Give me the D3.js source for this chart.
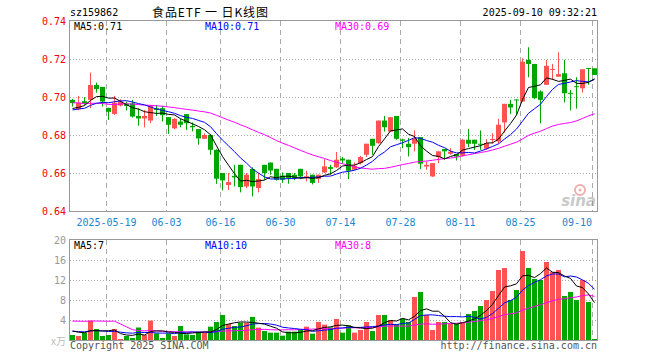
<!DOCTYPE html>
<html>
<head>
<meta charset="utf-8">
<script src="https://cdn.jsdelivr.net/npm/d3@7"></script>
<style>
  body { margin: 0; background: #fff; }
  svg { display: block; }
  text { font-family: "DejaVu Sans Mono", "Liberation Mono", monospace; font-size: 10px; }
</style>
</head>
<body>
<div id="chart"></div>
<script>
// trading days shown (2025)
const dates = [
  "05-09","05-12","05-13","05-14","05-15","05-16","05-19","05-20","05-21","05-22","05-23","05-26","05-27","05-28","05-29","05-30",
  "06-03","06-04","06-05","06-06","06-09","06-10","06-11","06-12","06-13","06-16","06-17","06-18","06-19","06-20","06-23","06-24","06-25","06-26","06-27","06-30",
  "07-01","07-02","07-03","07-04","07-07","07-08","07-09","07-10","07-11","07-14","07-15","07-16","07-17","07-18","07-21","07-22","07-23","07-24","07-25","07-28","07-29","07-30","07-31",
  "08-01","08-04","08-05","08-06","08-07","08-08","08-11","08-12","08-13","08-14","08-15","08-18","08-19","08-20","08-21","08-22","08-25","08-26","08-27","08-28","08-29",
  "09-01","09-02","09-03","09-04","09-05","09-08","09-09","09-10"
];

const open = [
  .6985,.6936,.6978,.6985,.7063,.7053,.6943,.6911,.6955,.6964,
  .6967,.6900,.6887,.6876,.6941,.6941,.6894,.6835,.6871,.6910,
  .6848,.6831,.6780,.6800,.6722,.6600,.6537,.6585,.6643,.6529,
  .6621,.6521,.6643,.6655,.6622,.6586,.6600,.6591,.6622,.6578,
  .6591,.6569,.6603,.6631,.6630,.6676,.6670,.6617,.6652,.6696,
  .6780,.6757,.6876,.6818,.6900,.6777,.6754,.6754,.6789,.6634,
  .6582,.6684,.6726,.6701,.6700,.6691,.6775,.6775,.6754,.6728,
  .6776,.6766,.6866,.6964,.6987,.6976,.7195,.7174,.7029,.7064,
  .7143,.7107,.7125,.7022,.7057,.7046,.7153,.7151
];
const high = [
  .6990,.7006,.6999,.7128,.7076,.7053,.6943,.7006,.6988,.6976,
  .6985,.6941,.6932,.6958,.6958,.6953,.6894,.6889,.6885,.6911,
  .6866,.6831,.6808,.6805,.6725,.6600,.6600,.6643,.6643,.6600,
  .6630,.6600,.6643,.6655,.6622,.6603,.6600,.6600,.6622,.6612,
  .6591,.6591,.6673,.6643,.6710,.6684,.6670,.6656,.6690,.6754,
  .6780,.6876,.6900,.6894,.6900,.6780,.6784,.6824,.6789,.6661,
  .6652,.6714,.6726,.6731,.6700,.6780,.6831,.6775,.6824,.6778,
  .6810,.6885,.6964,.6985,.6987,.7204,.7262,.7174,.7035,.7195,
  .7174,.7235,.7195,.7037,.7104,.7146,.7153,.7151
];
const low = [
  .6950,.6930,.6958,.6941,.7023,.6950,.6880,.6906,.6950,.6929,
  .6892,.6849,.6840,.6862,.6900,.6871,.6806,.6830,.6841,.6827,
  .6819,.6749,.6780,.6696,.6543,.6508,.6510,.6529,.6498,.6520,
  .6477,.6498,.6564,.6591,.6560,.6548,.6544,.6562,.6569,.6556,
  .6540,.6548,.6600,.6591,.6626,.6649,.6568,.6615,.6645,.6684,
  .6696,.6754,.6818,.6818,.6775,.6731,.6687,.6714,.6620,.6617,
  .6579,.6652,.6670,.6696,.6666,.6687,.6736,.6722,.6722,.6722,
  .6754,.6754,.6812,.6911,.6908,.6976,.7104,.6989,.6862,.7064,
  .7090,.7107,.6971,.6929,.6939,.7023,.7064,.7116
];
const close = [
  .6968,.6970,.6967,.7063,.7042,.6976,.6922,.6970,.6976,.6953,
  .6897,.6887,.6900,.6953,.6932,.6904,.6854,.6885,.6854,.6862,
  .6841,.6782,.6800,.6722,.6570,.6561,.6552,.6577,.6526,.6591,
  .6529,.6568,.6600,.6613,.6565,.6565,.6574,.6574,.6582,.6583,
  .6548,.6591,.6635,.6622,.6670,.6666,.6612,.6638,.6684,.6754,
  .6743,.6876,.6841,.6894,.6780,.6770,.6736,.6780,.6649,.6643,
  .6652,.6714,.6714,.6712,.6687,.6775,.6754,.6754,.6749,.6757,
  .6779,.6854,.6964,.6945,.6982,.7186,.7174,.6994,.6985,.7164,
  .7148,.7120,.7020,.7018,.7053,.7146,.7148,.7116
];
// volume, 万手
const volume = [
  1.0,0.8,1.4,3.87,2.2,0.8,1.0,2.2,0.2,0.8,
  0.4,2.5,1.0,3.87,1.33,0.4,1.33,0.8,2.8,1.13,
  1.0,1.7,1.47,2.67,3.6,5.0,3.2,2.8,3.47,3.47,
  4.6,2.47,1.8,1.47,1.47,0.87,1.67,1.67,2.0,2.67,
  1.27,3.6,3.07,2.53,4.2,1.47,2.93,1.47,2.0,3.6,
  1.8,5.0,5.0,4.0,3.2,4.33,3.6,8.6,9.6,5.0,
  2.0,3.6,3.6,3.2,3.33,3.6,5.2,5.8,6.8,8.0,
  9.8,14.0,14.4,8.0,10.0,17.8,14.4,12.2,12.0,15.6,
  13.6,14.0,8.8,9.6,8.0,12.0,7.6,0.2
];
// 29 sessions before 05-09, only used to seed the moving averages
const preClose = [
  .703,.705,.702,.704,.701,.706,.700,.688,.692,.695,
  .697,.698,.699,.700,.697,.698,.699,.700,.698,.697,
  .692,.693,.691,.693,.693,.694,.692,.693,.694
];
const preVol = [
  1.5,2.0,2.5,1.8,1.5,1.6,2.0,17,18,17,
  8,2.8,2.6,2.5,2.7,2.6,2.4,2.8,2.6,1.9,
  1.7,1.8,1.7,1.8,1.6,2.0,1.9,1.9,2.2
];

const priceTicks = [0.74, 0.72, 0.70, 0.68, 0.66, 0.64];
const volTicks = [20, 16, 12, 8, 4];
const tickDates = ["05-19","06-03","06-16","06-30","07-14","07-28","08-11","08-25","09-10"];

const width = 660, height = 360;
const RED = "#ff5252", GREEN = "#00a600", GRID = "#aaaaaa";
const maColors = {5: "#000000", 10: "#0000ff", 30: "#ff00ff"};

const svg = d3.select("#chart").append("svg")
    .attr("width", width)
    .attr("height", height);

const x = d3.scaleBand().domain(dates).range([70, 598]);
const y = d3.scaleLinear().domain([0.64, 0.74]).range([211, 21]);
const yv = d3.scaleLinear().domain([0, 20]).range([340, 240]);
const cx = d => x(d) + 2.5;

function movingAvg(pre, vals, n) {
    const all = pre.concat(vals);
    return vals.map((_, i) => d3.mean(all.slice(i + pre.length - n + 1, i + pre.length + 1)));
}

const candles = dates.map((d, i) => ({date: d, o: open[i], h: high[i], l: low[i], c: close[i], v: volume[i]}));

// header
svg.append("text").attr("x", 70).attr("y", 16).text("sz159862");
svg.append("text")
    .attr("x", 152).attr("y", 17)
    .attr("textLength", 116)
    .style("font-family", "'Noto Sans CJK SC', sans-serif")
    .style("font-size", "12px")
    .text("食品ETF 一 日K线图");
svg.append("text").attr("x", 597).attr("y", 16).attr("text-anchor", "end").text("2025-09-10 09:32:21");

function panel(yScale, ticks, top, bottom) {
    const g = svg.append("g");
    g.selectAll(".hg").data(ticks.filter((t, i) => i > 0 && t > yScale.domain()[0]))
        .enter().append("line")
        .attr("x1", 70).attr("x2", 597)
        .attr("y1", d => Math.round(yScale(d)) + 0.5)
        .attr("y2", d => Math.round(yScale(d)) + 0.5)
        .attr("stroke", GRID).attr("stroke-dasharray", "1,2");
    g.selectAll(".vg").data(tickDates).enter().append("line")
        .attr("x1", d => x(d) + 0.5).attr("x2", d => x(d) + 0.5)
        .attr("y1", top).attr("y2", bottom)
        .attr("stroke", GRID).attr("stroke-dasharray", "5,4");
    return g;
}

// ---- price panel
panel(y, priceTicks, 21, 211);

svg.append("g").selectAll("text").data(priceTicks).enter().append("text")
    .attr("x", 66).attr("y", d => y(d) + 4)
    .attr("text-anchor", "end")
    .attr("fill", "#ee0000")
    .text(d => d.toFixed(2));

const lastTick = tickDates[tickDates.length - 1];
svg.append("g").selectAll("text").data(tickDates).enter().append("text")
    .attr("x", d => d === lastTick ? x(d) : x(d) + 0.5).attr("y", 226)
    .attr("text-anchor", d => d === lastTick ? "end" : "middle")
    .attr("fill", "#1a86d0")
    .text(d => d === "05-19" ? "2025-05-19" : d);

// sina watermark
const wm = svg.append("g").attr("opacity", 0.45);
wm.append("circle").attr("cx", 580).attr("cy", 190).attr("r", 5).attr("fill", "none").attr("stroke", "#e05050").attr("stroke-width", 2);
wm.append("circle").attr("cx", 580).attr("cy", 190).attr("r", 1.5).attr("fill", "#e05050");
wm.append("text").attr("x", 596).attr("y", 206).attr("text-anchor", "end")
    .style("font-family", "'DejaVu Sans', sans-serif").style("font-size", "15px")
    .style("font-weight", "bold").style("font-style", "italic")
    .attr("fill", "#888").text("sina");

const cg = svg.append("g");
cg.selectAll(".wick").data(candles).enter().append("rect")
    .attr("x", d => x(d.date) + 2).attr("width", 1)
    .attr("y", d => y(d.h)).attr("height", d => Math.max(1, y(d.l) - y(d.h)))
    .attr("fill", d => d.c >= d.o ? RED : GREEN);
cg.selectAll(".body").data(candles).enter().append("rect")
    .attr("x", d => x(d.date)).attr("width", 5)
    .attr("y", d => y(Math.max(d.o, d.c)))
    .attr("height", d => Math.max(1, Math.abs(y(d.o) - y(d.c))))
    .attr("fill", d => d.c >= d.o ? RED : GREEN);

const priceLine = d3.line().x((v, i) => cx(dates[i])).y(v => y(v));
[30, 10, 5].forEach(n => {
    svg.append("path").datum(movingAvg(preClose, close, n))
        .attr("d", priceLine).attr("fill", "none")
        .attr("stroke", maColors[n]).attr("stroke-width", 1);
});

svg.append("rect").attr("x", 69.5).attr("y", 20.5).attr("width", 528).attr("height", 191)
    .attr("fill", "none").attr("stroke", "#999");

const lastMA = (pre, vals, n) => movingAvg(pre, vals, n)[vals.length - 1];
[[5, 74], [10, 205], [30, 335]].forEach(([n, px]) => {
    svg.append("text").attr("x", px).attr("y", 30).attr("fill", maColors[n])
        .text("MA" + n + ":" + lastMA(preClose, close, n).toFixed(2));
});

// ---- volume panel
panel(yv, volTicks, 240, 340);

svg.append("g").selectAll("text").data(volTicks).enter().append("text")
    .attr("x", 66).attr("y", d => yv(d) + 4)
    .attr("text-anchor", "end").attr("fill", "#999")
    .text(d => d);
svg.append("text").attr("x", 66).attr("y", 345).attr("text-anchor", "end")
    .attr("fill", "#bbb").style("font-family", "'Noto Sans CJK SC', sans-serif").text("x万");

svg.append("g").selectAll("rect").data(candles).enter().append("rect")
    .attr("x", d => x(d.date)).attr("width", 5)
    .attr("y", d => yv(d.v)).attr("height", d => yv(0) - yv(d.v))
    .attr("fill", d => d.c >= d.o ? RED : GREEN);

const volLine = d3.line().x((v, i) => cx(dates[i])).y(v => yv(v));
[30, 10, 5].forEach(n => {
    svg.append("path").datum(movingAvg(preVol, volume, n))
        .attr("d", volLine).attr("fill", "none")
        .attr("stroke", maColors[n]).attr("stroke-width", 1);
});

svg.append("rect").attr("x", 69.5).attr("y", 239.5).attr("width", 528).attr("height", 101)
    .attr("fill", "none").attr("stroke", "#999");

[[5, 74], [10, 205], [30, 335]].forEach(([n, px]) => {
    svg.append("text").attr("x", px).attr("y", 249).attr("fill", maColors[n])
        .text("MA" + n + ":" + Math.floor(lastMA(preVol, volume, n)));
});

svg.append("text").attr("x", 70).attr("y", 349).attr("fill", "#555").text("Copyright 2025 SINA.COM");
svg.append("text").attr("x", 597).attr("y", 349).attr("text-anchor", "end").attr("fill", "#555").text("http://finance.sina.com.cn");
</script>
</body>
</html>
